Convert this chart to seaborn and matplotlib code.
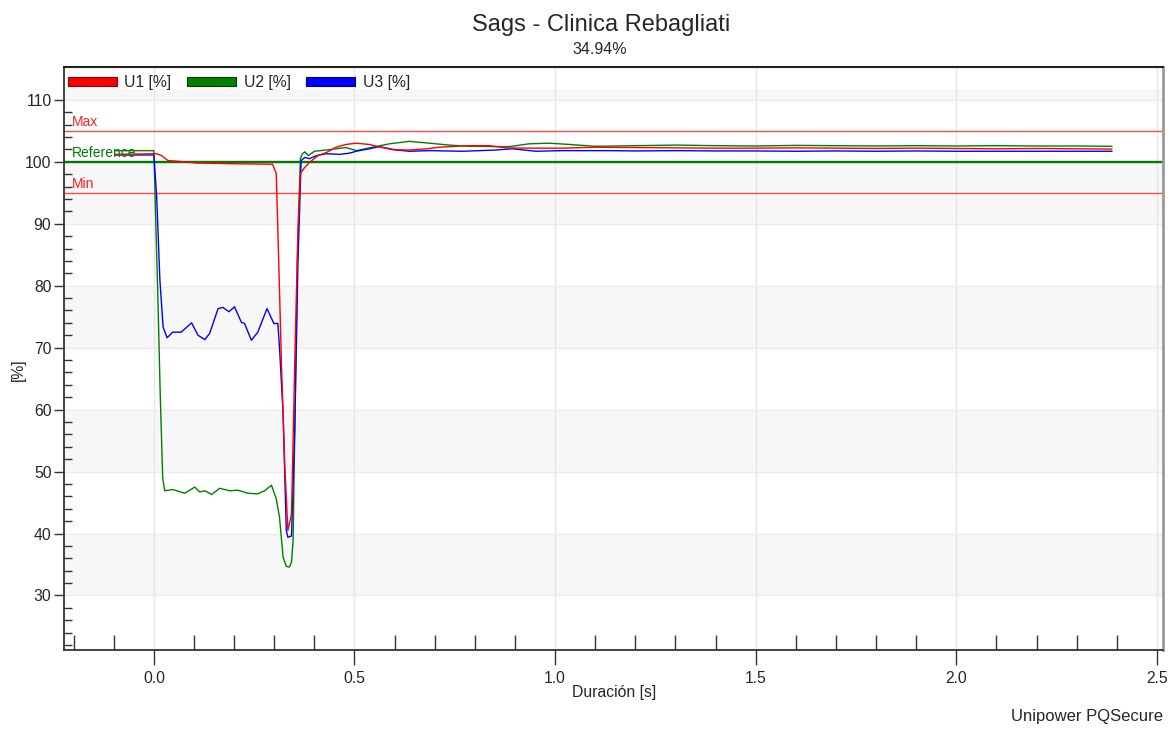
import numpy as np
import pandas as pd
import matplotlib
matplotlib.use("Agg")
import matplotlib.pyplot as plt
import matplotlib.transforms as mtransforms
from matplotlib.patches import Patch
from matplotlib.ticker import MultipleLocator, FixedLocator
import seaborn as sns

# ---- data -------------------------------------------------------------
series_names = ["U1 [%]", "U2 [%]", "U3 [%]"]
series_colors = ["#ff0000", "#008000", "#0000ff"]
series_edges = ["#8b0000", "#004000", "#00008b"]

u1_t = [-0.097, 0.0, 0.007, 0.019, 0.035, 0.056, 0.107, 0.189, 0.296, 0.305,
        0.309, 0.318, 0.326, 0.334, 0.343, 0.351, 0.359, 0.365, 0.376, 0.388,
        0.409, 0.43, 0.454, 0.479, 0.504, 0.537, 0.562, 0.595, 0.637, 0.68,
        0.711, 0.75, 0.786, 0.836, 0.878, 0.935, 1.017, 1.1, 1.2, 1.3,
        1.4, 1.5, 1.6, 1.7, 1.8, 1.9, 2.0, 2.1, 2.2, 2.3, 2.388]
u1_v = [101.2, 101.3, 101.3, 101.0, 100.2, 100.1, 99.8, 99.7, 99.6, 98.1,
        88.9, 67.4, 51.3, 40.5, 43.2, 67.4, 88.9, 98.1, 99.1, 99.9,
        101.0, 101.5, 102.35, 102.8, 103.0, 102.8, 102.4, 101.95, 101.9, 102.1,
        102.35, 102.5, 102.6, 102.6, 102.25, 102.2, 102.2, 102.35, 102.3, 102.25,
        102.2, 102.2, 102.25, 102.2, 102.15, 102.2, 102.15, 102.1, 102.15, 102.1, 102.05]

u2_t = [-0.097, 0.0, 0.004, 0.01, 0.016, 0.022, 0.027, 0.047, 0.077, 0.102,
        0.114, 0.127, 0.144, 0.164, 0.189, 0.209, 0.234, 0.259, 0.276, 0.293,
        0.305, 0.313, 0.322, 0.330, 0.338, 0.343, 0.347, 0.352, 0.358, 0.365,
        0.370, 0.376, 0.385, 0.4, 0.429, 0.479, 0.505, 0.537, 0.587, 0.637,
        0.687, 0.736, 0.786, 0.853, 0.886, 0.935, 0.985, 1.035, 1.1, 1.2,
        1.3, 1.4, 1.5, 1.6, 1.7, 1.8, 1.9, 2.0, 2.1, 2.2, 2.3, 2.388]
u2_v = [101.8, 101.8, 92.0, 78.0, 62.0, 49.0, 46.9, 47.1, 46.5, 47.5,
        46.7, 46.9, 46.3, 47.3, 46.9, 47.0, 46.5, 46.4, 46.9, 47.8,
        45.6, 42.7, 36.2, 34.7, 34.6, 35.4, 38.9, 60.0, 85.0, 100.5,
        101.3, 101.6, 101.0, 101.7, 101.9, 102.3, 101.8, 102.25, 102.9, 103.3,
        103.0, 102.7, 102.5, 102.45, 102.45, 102.9, 103.0, 102.8, 102.5, 102.6,
        102.7, 102.6, 102.55, 102.65, 102.6, 102.55, 102.6, 102.55, 102.6, 102.55, 102.55, 102.5]

u3_t = [-0.097, 0.0, 0.007, 0.015, 0.023, 0.033, 0.047, 0.068, 0.094, 0.11,
        0.127, 0.139, 0.16, 0.172, 0.187, 0.201, 0.218, 0.226, 0.243, 0.259,
        0.282, 0.299, 0.309, 0.313, 0.322, 0.330, 0.334, 0.343, 0.351, 0.359,
        0.367, 0.376, 0.388, 0.405, 0.43, 0.463, 0.488, 0.504, 0.537, 0.562,
        0.604, 0.637, 0.687, 0.77, 0.853, 0.893, 0.952, 1.017, 1.134, 1.2,
        1.3, 1.4, 1.5, 1.6, 1.7, 1.8, 1.9, 2.0, 2.1, 2.2, 2.3, 2.388]
u3_v = [101.1, 101.1, 94.3, 80.9, 73.3, 71.6, 72.5, 72.5, 74.0, 72.0,
        71.3, 72.3, 76.3, 76.5, 75.8, 76.6, 74.1, 73.9, 71.2, 72.5,
        76.3, 73.9, 73.9, 70.1, 59.4, 40.5, 39.4, 39.6, 56.7, 83.5,
        100.2, 100.7, 100.5, 101.0, 101.3, 101.2, 101.4, 101.7, 102.1, 102.45,
        101.9, 101.7, 101.8, 101.7, 101.9, 102.1, 101.7, 101.8, 101.8, 101.75,
        101.8, 101.75, 101.75, 101.7, 101.75, 101.7, 101.75, 101.7, 101.7, 101.7, 101.7, 101.7]

limit_max = 105.0
limit_ref = 100.0
limit_min = 95.0

title_text = "Sags - Clinica Rebagliati"
subtitle_text = "34.94%"
x_label = "Duración [s]"
y_label = "[%]"
footer_text = "Unipower PQSecure"
x_major = [0.0, 0.5, 1.0, 1.5, 2.0, 2.5]
x_major_labels = ["0.0", "0.5", "1.0", "1.5", "2.0", "2.5"]

df = pd.concat([
    pd.DataFrame({"t": u1_t, "v": u1_v, "serie": series_names[0]}),
    pd.DataFrame({"t": u2_t, "v": u2_v, "serie": series_names[1]}),
    pd.DataFrame({"t": u3_t, "v": u3_v, "serie": series_names[2]}),
], ignore_index=True)

# ---- style ------------------------------------------------------------
sns.set_theme(style="white")
plt.rcParams["font.family"] = ["Liberation Sans", "DejaVu Sans"]

W, H = 1176, 731
fig = plt.figure(figsize=(W / 100, H / 100), dpi=100)
L, R, T, B = 64, 1163, 67, 650
ax = fig.add_axes([L / W, 1 - B / H, (R - L) / W, (B - T) / H])

xlim = (-0.224, 2.515)
ylim = (21.2, 115.3)
ax.set_xlim(*xlim)
ax.set_ylim(*ylim)

# alternating light bands
for lo in [30, 50, 70, 90, 110]:
    ax.axhspan(lo, lo + 10, color="#f7f7f7", zorder=0, lw=0)
# legend strip along the top
ax.axhspan(111.8, 120, color="white", zorder=0.5, lw=0)

for xv in x_major:
    ax.axvline(xv, color="#e6e6e6", lw=1.0, zorder=0.6)
for yv in range(30, 120, 10):
    ax.axhline(yv, color="#ececec", lw=1.0, zorder=0.6)

# limits
ax.axhline(limit_max, color="#ff4a4a", lw=1.0, zorder=1)
ax.axhline(limit_min, color="#ff4a4a", lw=1.0, zorder=1)
ax.axhline(limit_ref, color="#007a00", lw=1.7, zorder=1)

sns.lineplot(data=df, x="t", y="v", hue="serie",
             hue_order=[series_names[1], series_names[2], series_names[0]],
             palette=dict(zip(series_names, series_colors)),
             estimator=None, sort=False, lw=1.0, legend=False, ax=ax, zorder=2)

trans = mtransforms.blended_transform_factory(ax.transAxes, ax.transData)
lbl_kw = dict(transform=trans, va="bottom", ha="left", fontsize=10)
ax.text(0.007, limit_max + 0.25, "Max", color="#ff2020", **lbl_kw)
ax.text(0.007, limit_ref + 0.25, "Reference", color="#008000", **lbl_kw)
ax.text(0.007, limit_min + 0.25, "Min", color="#ff2020", **lbl_kw)

# axes / ticks
ax.set_xticks(x_major)
ax.set_xticklabels(x_major_labels)
ax.xaxis.set_minor_locator(MultipleLocator(0.1))
ax.yaxis.set_major_locator(MultipleLocator(10))
ax.yaxis.set_minor_locator(FixedLocator([v for v in range(22, 111, 2) if v % 10]))
ax.tick_params(axis="x", which="major", direction="out", length=11, width=1.0,
               color="#333333", labelsize=11.3, pad=4, bottom=True)
ax.tick_params(axis="x", which="minor", direction="in", length=11, width=1.0,
               color="#333333", bottom=True)
ax.tick_params(axis="y", which="major", direction="out", length=7, width=1.0,
               color="#333333", labelsize=11.3, pad=2, left=True)
ax.tick_params(axis="y", which="minor", direction="in", length=6, width=1.0,
               color="#333333", left=True)
ax.set_xlabel("")
ax.set_ylabel("")

for side in ["left", "bottom"]:
    ax.spines[side].set_color("#333333")
    ax.spines[side].set_linewidth(1.3)
ax.spines["top"].set_color("#222222")
ax.spines["top"].set_linewidth(1.5)
ax.spines["right"].set_color("#9a9a9a")
ax.spines["right"].set_linewidth(2.0)

handles = [Patch(facecolor=c, edgecolor=e, linewidth=0.8, label=n)
           for n, c, e in zip(series_names, series_colors, series_edges)]
ax.legend(handles=handles, loc="upper left", bbox_to_anchor=(0.0, 0.993),
          ncol=3, frameon=False, fontsize=11.3, handlelength=3.1,
          handleheight=0.45, handletextpad=0.5, columnspacing=1.0,
          borderpad=0.25, borderaxespad=0.0)

fig.text(601 / W, 1 - 25 / H, title_text, ha="center", va="center", fontsize=17)
fig.text(600 / W, 1 - 50 / H, subtitle_text, ha="center", va="center", fontsize=11.5)
fig.text(614 / W, 1 - 692 / H, x_label, ha="center", va="center", fontsize=11.3)
fig.text(18 / W, 1 - 370 / H, y_label, ha="center", va="center", rotation=90, fontsize=11.3)
fig.text(1163 / W, 1 - 717 / H, footer_text, ha="right", va="center", fontsize=12)

fig.savefig("out.png", dpi=100, facecolor="white")
